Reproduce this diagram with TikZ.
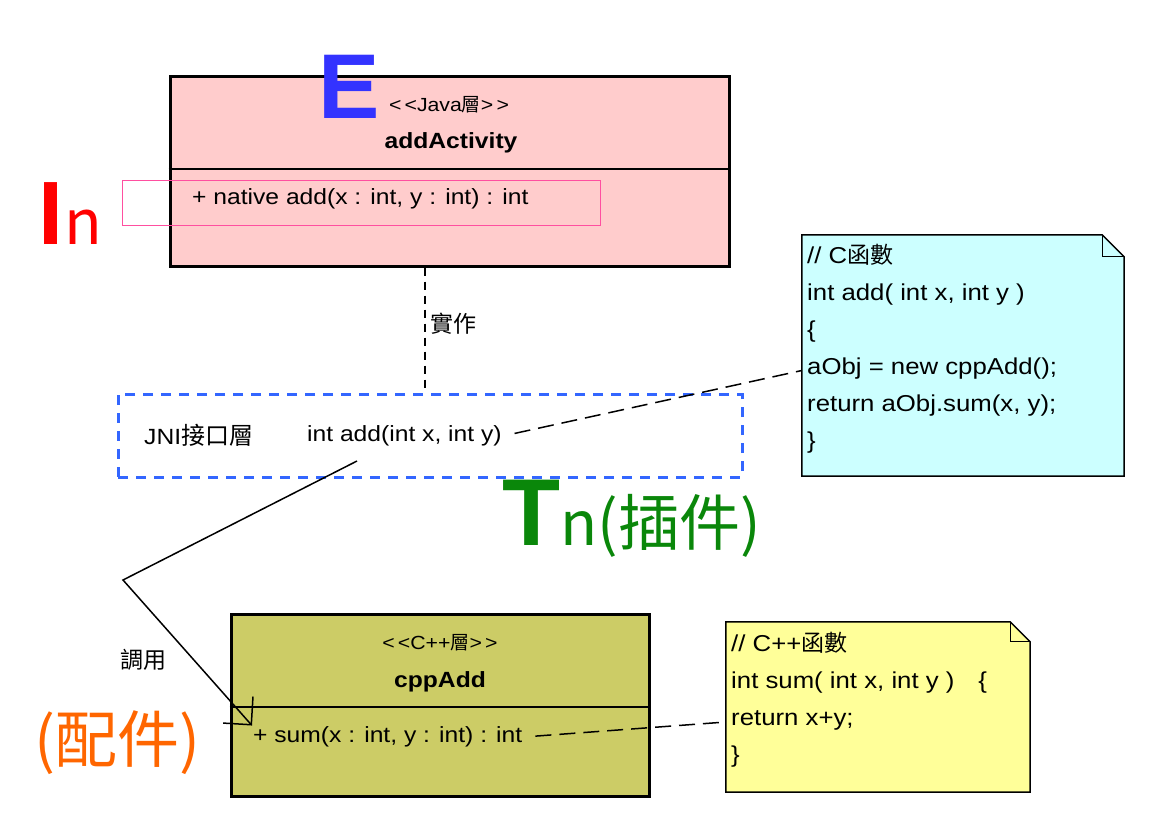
\documentclass[tikz,border=0pt]{standalone}
\usepackage{fontspec}
\setmainfont{Liberation Sans}
\newfontfamily\umlfont[FakeStretch=1.12]{Liberation Sans}
\newfontfamily\cjk{Noto Sans CJK TC}
\usetikzlibrary{arrows.meta,positioning}

\definecolor{javapink}{HTML}{FFCCCC}
\definecolor{cppolive}{HTML}{CCCC66}
\definecolor{notecyan}{HTML}{CCFFFF}
\definecolor{noteyellow}{HTML}{FFFF99}
\definecolor{hlpink}{HTML}{FF4FA0}
\definecolor{jniblue}{HTML}{3366FF}
\definecolor{eblue}{HTML}{3333FF}
\definecolor{tgreen}{HTML}{0A870A}
\definecolor{porange}{HTML}{FF6600}

\begin{document}
\begin{tikzpicture}[x=1pt,y=-1pt,
    classbox/.style={draw=black,line width=3pt,inner sep=0},
    optext/.style={font=\fontsize{22}{26}\selectfont\umlfont,inner sep=1pt},
    stereo/.style={font=\fontsize{19}{22}\selectfont\umlfont,inner sep=0},
    classname/.style={font=\fontsize{22}{26}\selectfont\umlfont\bfseries,inner sep=0},
    notetext/.style={font=\fontsize{23}{37}\selectfont\umlfont,align=left,inner sep=0},
    noteline/.style={line width=1.5pt,dash pattern=on 16pt off 8pt,shorten <=12pt},
    bigmark/.style={inner sep=0,anchor=base west}]
  \useasboundingbox (0,0) rectangle (1172,836);

  % Java layer class
  \node[classbox,fill=javapink,minimum width=559pt,minimum height=190pt] (java) at (449.5,171) {};
  \draw[line width=1.2pt] (java.west |- 0,169) -- (java.east |- 0,169);
  \node[stereo] (javast) at (449,105) {<\,<Java{\cjk 層}>\,>};
  \node[classname] (javaname) at (451,143) {addActivity};
  \node[optext,anchor=west] (nativeop) at (191,199) {+ native add(x : int, y : int) : int};
  \draw[hlpink,line width=1pt] (122,180) rectangle (600,225);

  % JNI layer
  \node[draw=jniblue,line width=3pt,dash pattern=on 10pt off 8pt,
        minimum width=624pt,minimum height=83pt] (jni) at (430,435.5) {};
  \node[optext,anchor=west] (jnilabel) at (143,435) {JNI{\cjk\fontsize{24}{26}\selectfont 接口層}};
  \node[optext,anchor=west] (jniop) at (306,436) {int add(int x, int y)};

  \coordinate (implx) at (425,0);
  \draw[line width=1.5pt,dash pattern=on 8pt off 6pt] (java.south -| implx) --
    node[optext,font=\fontsize{23}{26}\selectfont\cjk,right=4pt,pos=0.45] (impllabel) {實作} (jni.north -| implx);

  % C function note
  \node[minimum width=322pt,minimum height=241pt,inner sep=0] (cnote) at (963,355.5) {};
  \filldraw[fill=notecyan,line width=1.5pt] (cnote.north west) -- ([xshift=-22pt]cnote.north east)
    -- ([yshift=-22pt]cnote.north east) -- (cnote.south east) -- (cnote.south west) -- cycle;
  \draw[line width=1.2pt] ([xshift=-22pt]cnote.north east) |- ([yshift=-22pt]cnote.north east);
  \node[notetext,anchor=north west] (ctext) at (807,244) {%
    // C{\cjk 函數}\\ int add( int x, int y )\\ \{\\ aObj = new cppAdd();\\
    return aObj.sum(x, y);\\ \}};
  \draw[noteline] (jniop.east) -- ([yshift=-15pt]cnote.west);

  % C++ layer class
  \node[classbox,fill=cppolive,minimum width=418pt,minimum height=182pt] (cpp) at (440,705) {};
  \draw[line width=1.2pt] (cpp.west |- 0,707) -- (cpp.east |- 0,707);
  \node[stereo] (cppst) at (440,643) {<\,<C++{\cjk 層}>\,>};
  \node[classname] (cppname) at (440,682) {cppAdd};
  \node[optext,anchor=west] (sumop) at (252,737) {+ sum(x : int, y : int) : int};

  % C++ function note
  \node[minimum width=304pt,minimum height=170pt,inner sep=0] (ynote) at (878,707) {};
  \filldraw[fill=noteyellow,line width=1.5pt] (ynote.north west) -- ([xshift=-20pt]ynote.north east)
    -- ([yshift=-20pt]ynote.north east) -- (ynote.south east) -- (ynote.south west) -- cycle;
  \draw[line width=1.2pt] ([xshift=-20pt]ynote.north east) |- ([yshift=-20pt]ynote.north east);
  \node[notetext,anchor=north west] (ytext) at (731,632) {%
    // C++{\cjk 函數}\\ int sum( int x, int y )\hspace{24pt}\{\\ return x+y;\\ \}};
  \draw[noteline] (sumop.east) -- ([yshift=-15pt]ynote.west);

  % call from JNI to C++
  \coordinate (callstart) at (357,461);
  \coordinate (callbend) at (123,580);
  \draw[line width=1.5pt,-{Straight Barb[length=20pt,width=40pt]}]
    (callstart) -- (callbend) -- (sumop.north west);
  \node[optext,font=\fontsize{23}{26}\selectfont\cjk] (calllabel) at (143,660) {調用};

  % big markers
  \node[bigmark,font=\fontsize{92}{92}\selectfont\bfseries,text=eblue] (bige) at (318,118) {E};
  \node[bigmark,font=\fontsize{90}{90}\selectfont\bfseries,text=red] (bigi) at (38,244) {I};
  \node[bigmark,font=\fontsize{62}{62}\selectfont\cjk,text=red] (smalln) at (64,244) {n};
  \node[bigmark,font=\fontsize{95}{95}\selectfont\bfseries,text=tgreen] (bigt) at (502,545) {T};
  \node[bigmark,font=\fontsize{61}{61}\selectfont\cjk,text=tgreen] (plugin) at (bigt.base east) {n(插件)};
  \node[bigmark,font=\fontsize{62}{62}\selectfont\cjk,text=porange] (component) at (34,762) {(配件)};
\end{tikzpicture}
\end{document}
